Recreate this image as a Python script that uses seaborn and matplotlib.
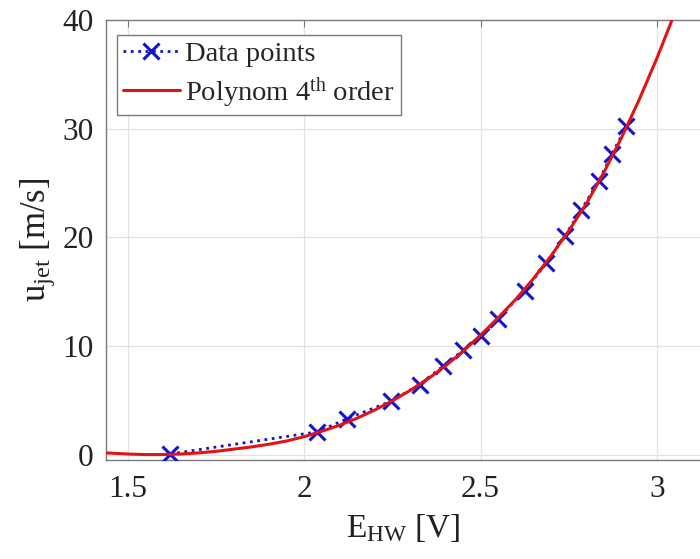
import numpy as np
import pandas as pd
import seaborn as sns
import matplotlib
matplotlib.use('Agg')
import matplotlib.pyplot as plt

# measured calibration points
e_hw = [1.619, 2.037, 2.120, 2.245, 2.327, 2.393, 2.450, 2.502, 2.549,
        2.625, 2.686, 2.738, 2.785, 2.835, 2.873, 2.913]
u_jet = [0.05, 2.09, 3.28, 4.90, 6.44, 8.12, 9.60, 10.95, 12.48,
         15.10, 17.60, 20.10, 22.50, 25.20, 27.70, 30.20]

# 4th order polynomial curve
poly_x = [1.44, 1.50, 1.55, 1.60, 1.65, 1.70, 1.75, 1.80, 1.85, 1.90,
          1.95, 2.00, 2.05, 2.10, 2.15, 2.20, 2.25, 2.30, 2.35, 2.40,
          2.45, 2.50, 2.55, 2.60, 2.65, 2.70, 2.75, 2.80, 2.85, 2.90,
          2.95, 3.00, 3.05]
poly_y = [0.15, 0.05, 0.0, 0.0, 0.05, 0.15, 0.30, 0.50, 0.70, 0.95,
          1.25, 1.65, 2.15, 2.70, 3.35, 4.10, 4.95, 5.90, 6.95, 8.15,
          9.50, 11.00, 12.60, 14.30, 16.20, 18.30, 20.60, 23.10, 26.00, 29.20,
          32.70, 36.50, 40.60]

x_ticks = [1.5, 2, 2.5, 3]
x_tick_labels = ['1.5', '2', '2.5', '3']
y_ticks = [0, 10, 20, 30, 40]

sns.set_style('white')
plt.rcParams['font.family'] = ['Liberation Serif', 'DejaVu Serif']
plt.rcParams['mathtext.fontset'] = 'custom'
plt.rcParams['mathtext.rm'] = 'Liberation Serif'
plt.rcParams['mathtext.it'] = 'Liberation Serif:italic'

data = pd.DataFrame({'E': e_hw, 'u': u_jet})
fit = pd.DataFrame({'E': poly_x, 'u': poly_y})

fig = plt.figure(figsize=(7.0, 5.59), dpi=100)
ax = fig.add_axes([106 / 700, 99 / 559, 594 / 700, 440 / 559])

blue = '#1414cc'
red = '#e01414'

sns.lineplot(x='E', y='u', data=data, ax=ax, color=blue, linestyle=':',
             linewidth=2.0, marker='x', markersize=11, markeredgewidth=2.2,
             markeredgecolor=blue, label='Data points', zorder=3)
sns.lineplot(x='E', y='u', data=fit, ax=ax, color=red, linewidth=2.2,
             label=r'Polynom 4$^{\mathrm{th}}$ order', zorder=4)

ax.set_xlim(1.438, 3.122)
ax.set_ylim(-0.5, 40)
ax.set_xticks(x_ticks)
ax.set_xticklabels(x_tick_labels)
ax.set_yticks(y_ticks)
ax.grid(True, color='#e2e2e2', linewidth=0.9)
ax.set_axisbelow(True)

for side in ['left', 'bottom', 'top']:
    ax.spines[side].set_color('#7a7a7a')
    ax.spines[side].set_linewidth(1.0)
ax.spines['right'].set_visible(False)

ax.tick_params(axis='both', direction='in', length=5, width=0.8,
               color='#7a7a7a', labelsize=22.5, labelcolor='#222222',
               top=True)
ax.tick_params(axis='x', pad=11)
ax.tick_params(axis='y', pad=9)

ax.set_xlabel(r'$\mathregular{E_{HW}}$ [V]', fontsize=24, color='#222222', labelpad=6)
ax.set_ylabel(r'$\mathregular{u_{jet}}$ [m/s]', fontsize=25, color='#222222', labelpad=4)

leg = ax.legend(loc='upper left', bbox_to_anchor=(117 / 700, 1 - 35 / 559),
                bbox_transform=fig.transFigure, borderaxespad=0,
                fontsize=20.5, frameon=True, fancybox=False, framealpha=1,
                edgecolor='#7a7a7a', handlelength=2.0, handletextpad=0.2,
                borderpad=0.2, labelspacing=0.3)
leg.get_frame().set_linewidth(1.0)

fig.savefig('out.png', dpi=100)
